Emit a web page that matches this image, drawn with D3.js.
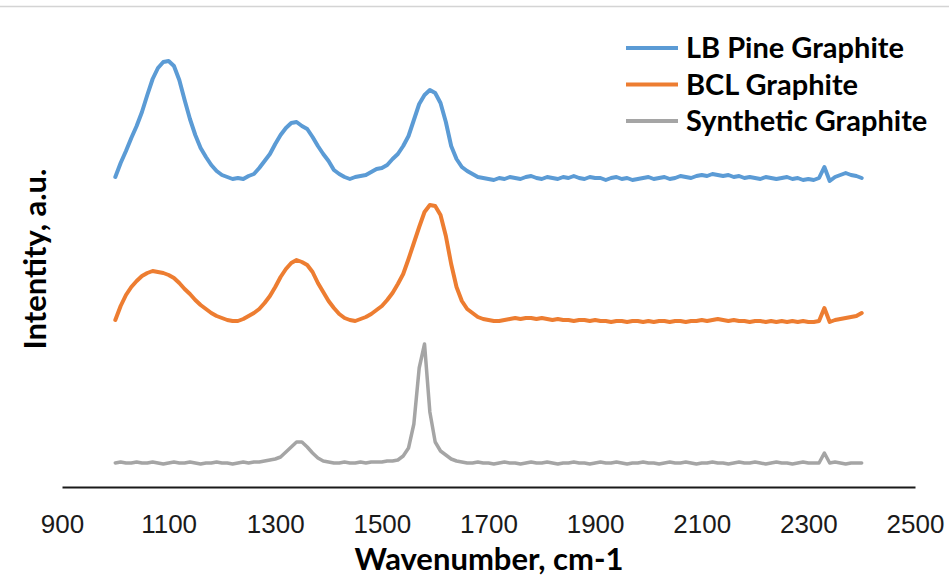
<!DOCTYPE html>
<html>
<head>
<meta charset="utf-8">
<script src="https://cdn.jsdelivr.net/npm/d3@7"></script>
<style>
  body { margin: 0; background: #fff; }
  svg { display: block; font-family: Lato, "Noto Sans", sans-serif; }
  .tick-label { font-size: 26px; fill: #1a1a1a; }
  .title { font-size: 31px; font-weight: bold; fill: #000; }
  .legend text { font-size: 29px; font-weight: bold; fill: #000; }
</style>
</head>
<body>
<div id="chart"></div>
<script>
// Raman spectra, one value every 10 cm-1 from 1000 to 2400 (arbitrary units, offset per sample)
var wavenumbers = d3.range(1000, 2401, 10);
var xTicks = [900, 1100, 1300, 1500, 1700, 1900, 2100, 2300, 2500];
var seriesNames = ["LB Pine Graphite", "BCL Graphite", "Synthetic Graphite"];
var seriesColors = ["#5B9BD5", "#ED7D31", "#A5A5A5"];

var lbPine = [
  310,324,336,349,361,375,392,408,419,425,
  426,421,407,387,368,352,339,330,322,316,
  312,310,308,309,308,311,313,319,326,333,
  343,352,359,364,365,361,358,350,341,333,
  326,317,313,310,308,310,311,312,315,318,
  319,322,328,333,341,351,367,383,392,397,
  394,384,365,341,328,320,316,313,310,309,308,
  307,309,308,310,309,308,310,311,309,308,
  310,309,308,310,309,311,309,308,310,309,
  309,307,309,310,308,309,307,308,309,310,
  308,309,310,308,309,311,310,309,311,312,
  311,313,312,311,312,310,311,309,310,309,
  308,310,309,308,309,310,308,309,307,308,
  307,309,320,306,310,312,314,312,311,309
];

var bcl = [
  167,181,192,200,206,211,214,216,215,214,
  212,209,204,198,193,187,182,178,174,171,
  169,167,166,166,168,171,174,178,184,191,
  200,210,218,224,227,225,222,215,204,195,
  186,179,173,169,167,166,168,170,173,177,
  181,187,194,203,213,228,244,260,275,282,
  281,272,251,223,200,186,178,174,170,168,167,
  166,166,167,168,169,168,169,169,168,169,
  168,167,168,167,167,166,167,167,166,167,
  166,166,165,166,166,165,166,166,165,166,
  165,166,166,165,166,166,165,166,166,167,
  166,167,168,167,166,167,166,166,165,166,
  166,165,166,165,166,165,166,165,166,165,
  165,166,179,165,167,168,169,170,171,174
];

var synthetic = [
  24,25,24,24,25,24,24,25,24,23,
  24,25,24,24,25,24,23,24,24,25,
  24,24,23,24,25,24,25,25,26,27,
  28,30,35,40,45,45,40,34,29,26,
  25,24,24,25,24,24,25,24,25,25,
  25,26,26,27,31,39,63,119,143,75,
  45,36,32,28,26,25,24,24,25,24,24,
  23,24,25,24,24,23,24,25,24,24,
  25,24,23,24,24,25,24,24,23,24,
  25,24,24,25,24,23,24,24,25,24,
  24,23,24,25,24,24,25,24,23,24,
  24,25,24,24,23,24,25,24,24,25,
  24,23,24,25,24,24,23,24,25,24,
  24,24,34,24,25,24,23,24,24,24
];

var W = 949, H = 579;
var svg = d3.select("#chart").append("svg")
  .attr("width", W)
  .attr("height", H);

// thin frame line along the top edge
svg.append("line")
  .attr("x1", 0).attr("x2", W)
  .attr("y1", 6.5).attr("y2", 6.5)
  .attr("stroke", "#d4d4d4")
  .attr("stroke-width", 1.5);

var x = d3.scaleLinear().domain([900, 2500]).range([62, 915]);
var y = d3.scaleLinear().domain([0, 470]).range([487, 17]);

var xAxis = d3.axisBottom(x).tickValues(xTicks).tickSize(0).tickPadding(27.5).tickFormat(d3.format("d"));

var gx = svg.append("g")
  .attr("class", "x axis")
  .attr("transform", "translate(0," + y(0) + ")")
  .call(xAxis);
gx.select(".domain").attr("stroke", "#1a1a1a").attr("stroke-width", 2);
gx.selectAll("text").attr("class", "tick-label").attr("fill", null).attr("font-size", null).attr("font-family", null);

svg.append("text")
  .attr("class", "title")
  .attr("x", 489).attr("y", 570)
  .attr("text-anchor", "middle")
  .text("Wavenumber, cm-1");

svg.append("text")
  .attr("class", "title")
  .attr("transform", "translate(46,259) rotate(-90)")
  .attr("text-anchor", "middle")
  .text("Intentity, a.u.");

var allSeries = [lbPine, bcl, synthetic];
var widths = [4, 4, 3.5];

var line = d3.line()
  .x(function(d, i) { return x(wavenumbers[i]); })
  .y(function(d) { return y(d); });

svg.selectAll("path.series")
  .data(allSeries).enter()
  .append("path")
  .attr("class", "series")
  .attr("fill", "none")
  .attr("stroke", function(d, i) { return seriesColors[i]; })
  .attr("stroke-width", function(d, i) { return widths[i]; })
  .attr("stroke-linejoin", "round")
  .attr("stroke-linecap", "round")
  .attr("d", line);

var legend = svg.append("g").attr("class", "legend");
var rows = legend.selectAll("g").data(seriesNames).enter().append("g")
  .attr("transform", function(d, i) { return "translate(626," + (48 + i * 36.5) + ")"; });

rows.append("line")
  .attr("x1", 0).attr("x2", 52)
  .attr("stroke", function(d, i) { return seriesColors[i]; })
  .attr("stroke-width", 4);

rows.append("text")
  .attr("x", 60).attr("y", 10)
  .text(function(d) { return d; });
</script>
</body>
</html>
